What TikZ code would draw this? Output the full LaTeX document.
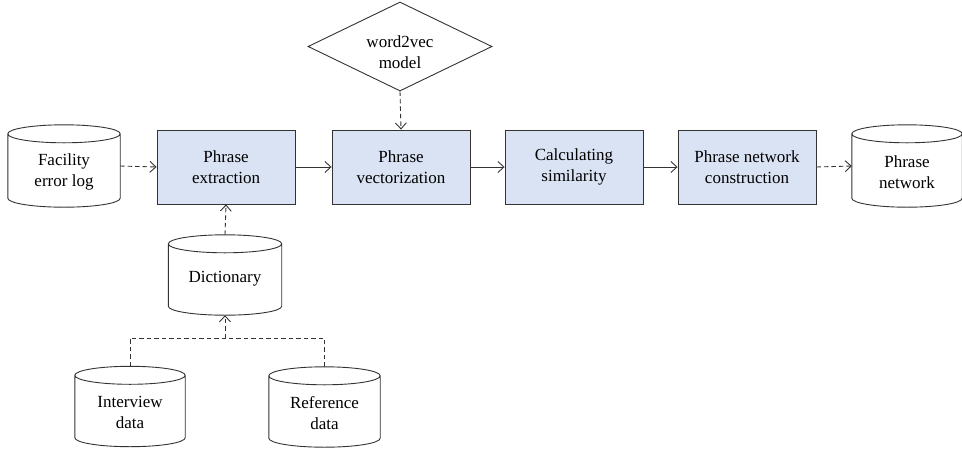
\documentclass[tikz,border=0pt]{standalone}
\usepackage{fontspec}
\setmainfont{Liberation Serif}
\newfontfamily\tnr{Liberation Serif}
\usetikzlibrary{arrows.meta,shapes.geometric,calc}
\definecolor{boxfill}{HTML}{DAE3F3}
\definecolor{linec}{HTML}{333333}
\tikzset{
  txt/.style={font=\tnr\fontsize{17}{21}\selectfont, align=center},
  procbox/.style={draw=linec, line width=0.9pt, fill=boxfill, minimum width=138pt, minimum height=74pt, inner sep=0pt, txt},
  cyl/.style={draw=none, minimum width=112pt, minimum height=82pt, inner sep=0pt},
  lbl/.style={txt, yshift=-6pt, inner sep=0pt},
  diam/.style={diamond, draw=linec, line width=0.9pt, minimum width=184pt, minimum height=89pt, inner sep=0pt},
  solidarrow/.style={draw=linec, line width=0.9pt, -{Straight Barb[length=6pt,width=11pt]}},
  dasharrow/.style={solidarrow, dash pattern=on 4.5pt off 3pt},
  dashline/.style={draw=linec, line width=0.9pt, dash pattern=on 4.5pt off 3pt},
  cylline/.style={draw=linec, line width=0.9pt},
}
\begin{document}
\begin{tikzpicture}[x=1pt,y=1pt]
\useasboundingbox (0,0) rectangle (962,-448);
% process boxes
\node[procbox] (pe) at (226,-167) {Phrase\\extraction};
\node[procbox] (pv) at (401,-167) {Phrase\\vectorization};
\node[procbox] (cs) at (574,-167) {Calculating\\similarity};
\node[procbox] (pnc) at (747,-167) {Phrase network\\construction};
% diamond
\node[diam, label={[lbl]center:word2vec\\model}] (w2v) at (400,-46.5) {};
% cylinders
\node[cyl, label={[lbl]center:Facility\\error log}] (fel) at (64,-166) {};
\node[cyl, minimum width=110pt, label={[lbl]center:Phrase\\network}] (pn) at (907,-166) {};
\node[cyl, minimum width=113pt, minimum height=80pt, label={[lbl,yshift=2pt]center:Dictionary}] (dic) at (225,-275) {};
\node[cyl, minimum width=110pt, minimum height=80pt, label={[lbl]center:Interview\\data}] (intv) at (130,-406.5) {};
\node[cyl, minimum width=111pt, minimum height=80pt, label={[lbl]center:Reference\\data}] (refd) at (324.5,-407) {};
\foreach \cy in {fel,pn,dic,intv,refd}{
  \draw[cylline] let \p1=(\cy.west), \p2=(\cy.east), \n1={(\x2-\x1)/2} in
    ($(\cy.north west)+(0,-9)$) -- ($(\cy.south west)+(0,9)$)
    arc[start angle=180,end angle=360,x radius=\n1,y radius=9pt]
    -- ($(\cy.north east)+(0,-9)$)
    arc[start angle=0,end angle=180,x radius=\n1,y radius=9pt]
    arc[start angle=180,end angle=360,x radius=\n1,y radius=9pt];
}
% connectors
\draw[dasharrow] (fel.east) -- (pe.west);
\draw[solidarrow] (pe.east) -- (pv.west);
\draw[solidarrow] (pv.east) -- (cs.west);
\draw[solidarrow] (cs.east) -- (pnc.west);
\draw[dasharrow] (pnc.east) -- (pn.west);
\draw[dasharrow] (w2v.south) -- (pv.north);
\draw[dasharrow] (dic.north) -- (pe.south);
\coordinate (jn) at (225,-338);
\draw[dashline] (intv.north) |- (jn);
\draw[dashline] (refd.north) |- (jn);
\draw[dasharrow] (jn) -- (dic.south);
\end{tikzpicture}
\end{document}
